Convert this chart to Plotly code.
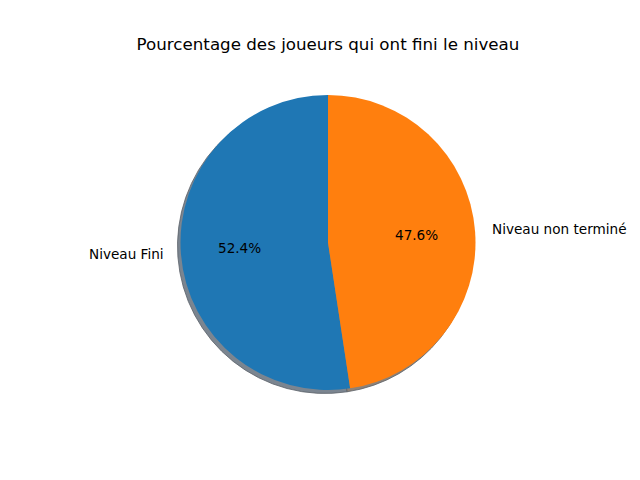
import numpy as np
import plotly.graph_objects as go

labels = ["Niveau Fini", "Niveau non terminé"]
values = [52.4, 47.6]
colors = ["#1f77b4", "#ff7f0e"]
shadow_colors = ["#7b8590", "#8e8277"]
title = "Pourcentage des joueurs qui ont fini le niveau"

W, H = 640, 480
cx, cy, r = 328.0, 242.5, 147.5
sdx, sdy = -3.0, 3.5

fr = np.array(values) / np.sum(values)
# plotly's counterclockwise places first slice clockwise of the rotation angle;
# shift so the first slice starts at 12 o'clock going counterclockwise (matplotlib startangle=90)
rot = -360.0 * fr[0]

def dom(cx_, cy_):
    return dict(x=[(cx_ - r) / W, (cx_ + r) / W], y=[1 - (cy_ + r) / H, 1 - (cy_ - r) / H])

font = "DejaVu Sans"
fig = go.Figure()
fig.add_trace(go.Pie(labels=labels, values=values, sort=False, direction="counterclockwise",
                     rotation=rot, domain=dom(cx + sdx, cy + sdy), textinfo="none", hoverinfo="skip",
                     marker=dict(colors=shadow_colors, line=dict(color="#5a6168", width=0.8)),
                     showlegend=False))
fig.add_trace(go.Pie(labels=labels, values=values, sort=False, direction="counterclockwise",
                     rotation=rot, domain=dom(cx, cy), textinfo="none",
                     marker=dict(colors=colors, line=dict(width=0)), showlegend=False))

# label and percent positions (matplotlib style: labels at 1.1 r, pct at 0.6 r)
start = 90.0
annotations = []
for lab, f in zip(labels, fr):
    mid = np.deg2rad(start + 360 * f / 2)
    start += 360 * f
    lx = cx + 1.1 * r * np.cos(mid)
    ly = cy - 1.1 * r * np.sin(mid) - 1
    px = cx + 0.6 * r * np.cos(mid)
    py = cy - 0.6 * r * np.sin(mid) - 1
    annotations.append(dict(x=lx / W, y=1 - ly / H, xref="paper", yref="paper", text=lab,
                            showarrow=False, xanchor="left" if np.cos(mid) > 0 else "right",
                            yanchor="middle", font=dict(family=font, size=13.6, color="black")))
    annotations.append(dict(x=px / W, y=1 - py / H, xref="paper", yref="paper",
                            text=f"{f*100:.1f}%", showarrow=False, xanchor="center",
                            yanchor="middle", font=dict(family=font, size=13.6, color="black")))

fig.update_layout(
    width=W, height=H, margin=dict(l=0, r=0, t=0, b=0),
    paper_bgcolor="white", plot_bgcolor="white",
    title=dict(text=title, x=cx / W, xanchor="center", y=1 - 44 / H, yanchor="middle",
               yref="container", font=dict(family=font, size=16.7, color="black")),
    annotations=annotations,
)
fig.write_html("out.html", config={"displayModeBar": False},
               post_script="document.body.style.margin='0';")
